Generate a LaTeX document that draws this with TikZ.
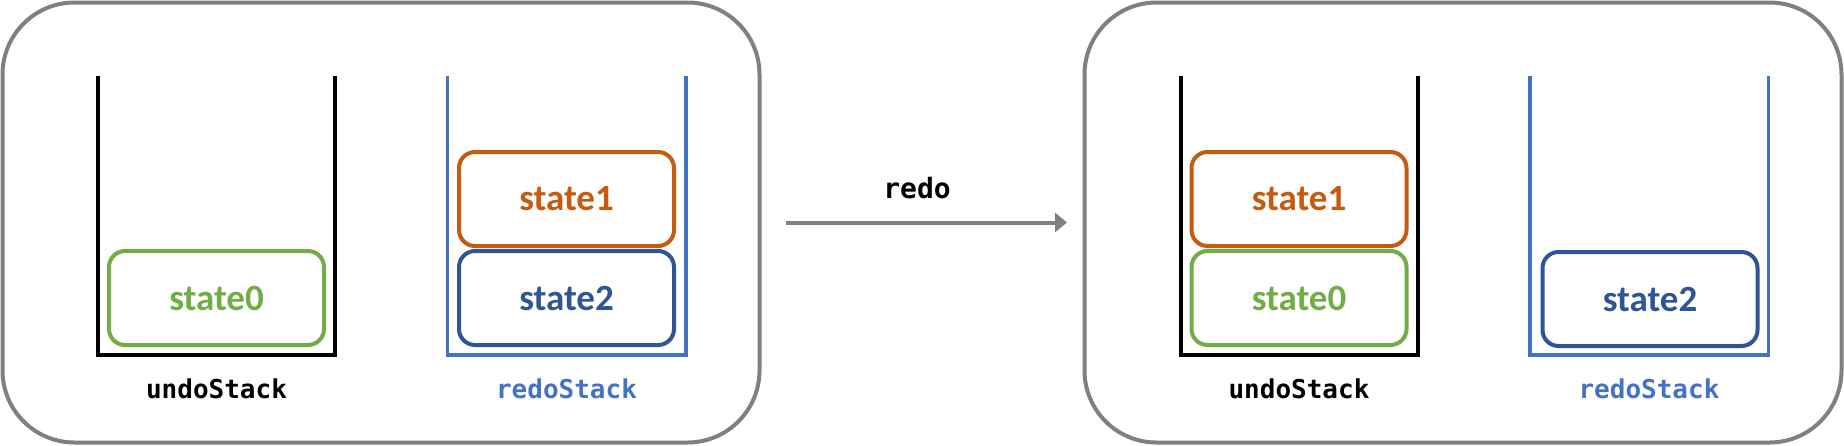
\documentclass[tikz,border=0pt]{standalone}
\usepackage{fontspec}
\newfontfamily\statefont{Carlito}
\newfontfamily\codefont{DejaVu Sans Mono}
\usetikzlibrary{positioning, arrows.meta}
\definecolor{panelgray}{RGB}{128,128,128}
\definecolor{stategreen}{RGB}{112,173,71}
\definecolor{stateorange}{RGB}{197,90,17}
\definecolor{stateblue}{RGB}{47,85,151}
\definecolor{redoblue}{RGB}{68,114,196}
\begin{document}
\begin{tikzpicture}[
x=1pt, y=-1pt,
node distance=1pt,
panel/.style={
draw=panelgray,
line width=4pt,
rounded corners=72pt,
minimum width=757pt,
minimum height=440pt,
inner sep=0pt
},
stackwall/.style={line width=4pt},
statebox/.style={
draw,
line width=4pt,
rounded corners=16pt,
fill=white,
minimum width=215pt,
minimum height=94pt,
font=\statefont\bfseries\fontsize{37}{42}\selectfont
},
stacklabel/.style={font=\codefont\bfseries\fontsize{26}{30}\selectfont}
]
\useasboundingbox (0,0) rectangle (1844,445);
\node[panel] (before) at (381,222.5) {};
\node[panel] (after) at (1463,222.5) {};
% the two stacks in each panel
\foreach \i/\dx in {0/0, 1/1082.5} {
\draw[stackwall] (98+\dx,76) |- (335+\dx,355) -- (335+\dx,76);
\draw[stackwall, line width=3.5pt, redoblue] (447.5+\dx,76) |- (686+\dx,355) -- (686+\dx,76);
\node[stacklabel] (undolabel\i) at (216.5+\dx,389) {undoStack};
\node[stacklabel, text=redoblue] (redolabel\i) at (566.5+\dx,389) {redoStack};
}
% before redo
\node[statebox, draw=stategreen, text=stategreen] (bstate0) at (216.5,298) {state0};
\node[statebox, draw=stateblue, text=stateblue] (bstate2) at (566.5,298) {state2};
\node[statebox, draw=stateorange, text=stateorange, above=of bstate2] (bstate1) {state1};
% after redo
\node[statebox, draw=stategreen, text=stategreen] (astate0) at (1299,298) {state0};
\node[statebox, draw=stateorange, text=stateorange, above=of astate0] (astate1) {state1};
\node[statebox, draw=stateblue, text=stateblue] (astate2) at (1650,299) {state2};
\draw[-{Triangle[length=12pt,width=19pt]}, line width=4pt, panelgray, shorten <=24.5pt, shorten >=15.5pt] (before) -- (after);
\node[stacklabel, font=\codefont\bfseries\fontsize{28}{32}\selectfont] (redo) at (917,188) {redo};
\end{tikzpicture}
\end{document}
